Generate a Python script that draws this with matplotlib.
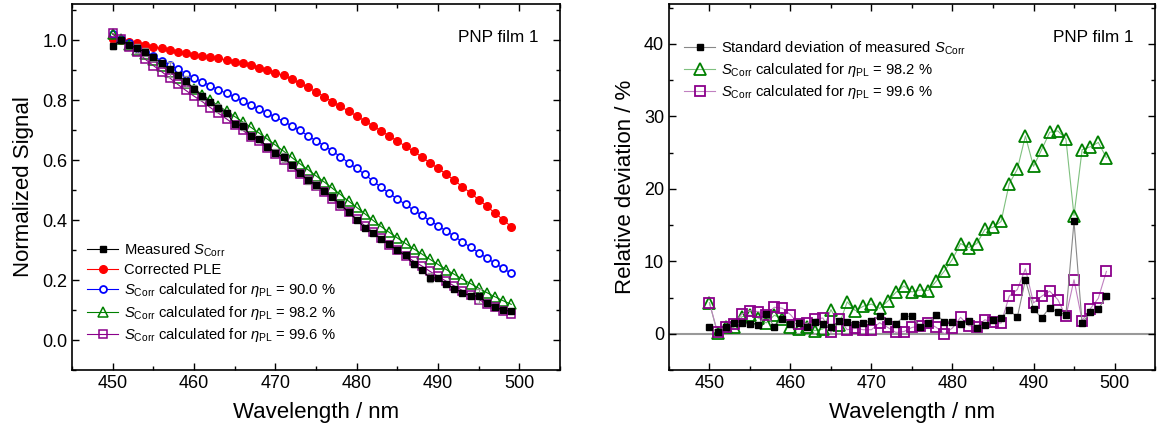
import numpy as np
import matplotlib
matplotlib.use('Agg')
import matplotlib.pyplot as plt
from matplotlib.ticker import MultipleLocator

plt.rcParams['font.family'] = ['Liberation Sans', 'DejaVu Sans']
plt.rcParams['mathtext.fontset'] = 'custom'
plt.rcParams['mathtext.rm'] = 'Liberation Sans'
plt.rcParams['mathtext.it'] = 'Liberation Sans:italic'

wavelength = np.arange(450, 500)

# left panel: normalized signals
measured = [0.980, 1.000, 0.984, 0.972, 0.960, 0.942, 0.924, 0.902, 0.882, 0.863,
            0.838, 0.812, 0.792, 0.774, 0.757, 0.720, 0.714, 0.680, 0.669, 0.645,
            0.624, 0.609, 0.583, 0.556, 0.533, 0.517, 0.497, 0.477, 0.452, 0.426,
            0.401, 0.374, 0.357, 0.336, 0.319, 0.299, 0.282, 0.252, 0.232, 0.208,
            0.206, 0.187, 0.171, 0.158, 0.147, 0.147, 0.124, 0.111, 0.099, 0.096]
corrected_ple = [1.005, 0.999, 0.994, 0.989, 0.983, 0.977, 0.972, 0.967, 0.960, 0.956,
                 0.950, 0.947, 0.943, 0.939, 0.933, 0.927, 0.922, 0.916, 0.908, 0.900,
                 0.891, 0.882, 0.870, 0.857, 0.842, 0.827, 0.811, 0.795, 0.779, 0.763,
                 0.747, 0.730, 0.714, 0.697, 0.680, 0.663, 0.646, 0.629, 0.610, 0.591,
                 0.572, 0.553, 0.532, 0.511, 0.490, 0.468, 0.446, 0.423, 0.401, 0.378]
calc_900 = [1.020, 1.004, 0.990, 0.975, 0.960, 0.946, 0.931, 0.917, 0.902, 0.888,
            0.874, 0.861, 0.848, 0.835, 0.822, 0.809, 0.796, 0.783, 0.770, 0.757,
            0.743, 0.729, 0.714, 0.699, 0.681, 0.664, 0.648, 0.630, 0.611, 0.591,
            0.572, 0.552, 0.530, 0.509, 0.489, 0.470, 0.452, 0.433, 0.416, 0.398,
            0.381, 0.363, 0.346, 0.327, 0.309, 0.291, 0.273, 0.256, 0.239, 0.222]
calc_982 = [1.019, 1.002, 0.983, 0.968, 0.952, 0.935, 0.915, 0.895, 0.875, 0.856,
            0.838, 0.818, 0.799, 0.781, 0.763, 0.745, 0.727, 0.709, 0.690, 0.670,
            0.650, 0.630, 0.609, 0.588, 0.568, 0.547, 0.527, 0.506, 0.485, 0.463,
            0.442, 0.421, 0.399, 0.378, 0.359, 0.340, 0.322, 0.304, 0.287, 0.269,
            0.252, 0.235, 0.219, 0.203, 0.188, 0.173, 0.158, 0.144, 0.131, 0.119]
calc_996 = [1.022, 1.002, 0.978, 0.960, 0.936, 0.915, 0.895, 0.874, 0.852, 0.832,
            0.813, 0.795, 0.775, 0.756, 0.737, 0.718, 0.699, 0.678, 0.662, 0.641,
            0.620, 0.600, 0.578, 0.555, 0.533, 0.512, 0.492, 0.470, 0.448, 0.426,
            0.404, 0.381, 0.360, 0.339, 0.317, 0.299, 0.280, 0.263, 0.247, 0.229,
            0.212, 0.196, 0.180, 0.165, 0.150, 0.135, 0.121, 0.109, 0.098, 0.088]

# right panel: relative deviation in %
std_dev = [0.9, 0.3, 0.97, 1.45, 1.44, 1.32, 1.2, 2.7, 0.97, 2.1,
           1.3, 1.45, 0.97, 1.65, 1.28, 0.88, 1.71, 1.57, 1.34, 1.48,
           1.8, 2.5, 1.71, 1.34, 2.4, 2.4, 0.97, 1.48, 2.6, 1.67,
           1.67, 1.34, 1.71, 0.74, 1.25, 1.94, 2.18, 3.29, 2.27, 7.45,
           3.43, 2.18, 3.61, 3.0, 2.64, 15.5, 1.44, 2.96, 3.38, 5.18]
dev_982 = [4.26, 0.05, 0.88, 0.9, 2.35, 2.55, 2.2, 1.5, 2.55, 2.1,
           1.0, 0.65, 0.88, 0.45, 0.65, 3.33, 1.25, 4.4, 3.2, 3.8,
           4.1, 3.5, 4.5, 5.7, 6.6, 5.77, 6.05, 5.97, 7.27, 8.66,
           10.3, 12.45, 11.9, 12.45, 14.4, 14.7, 15.5, 20.7, 22.7, 27.3,
           23.1, 25.4, 27.8, 28.0, 26.9, 16.3, 25.4, 25.8, 26.4, 24.3]
dev_996 = [4.26, 0.19, 0.97, 1.3, 2.73, 3.19, 3.06, 2.64, 3.66, 3.52,
           2.64, 1.34, 1.44, 1.99, 2.18, 0.19, 2.04, 0.56, 0.74, 0.56,
           0.56, 1.53, 0.88, 0.19, 0.3, 0.88, 1.05, 1.48, 0.88, 0.0,
           0.8, 2.27, 1.11, 0.97, 1.94, 1.57, 1.48, 5.18, 6.1, 8.98,
           4.26, 5.18, 5.88, 4.72, 2.4, 7.45, 1.8, 3.43, 4.9, 8.61]

s_corr = r'$S_{\rm Corr}$'
eta = r'$\eta_{\rm PL}$'

fig = plt.figure(figsize=(11.6, 4.28), dpi=100)
ax1 = fig.add_axes([0.0621, 0.1355, 0.4207, 0.855])
ax2 = fig.add_axes([0.5767, 0.1355, 0.4190, 0.855])

purple = '#8B008B'
green = '#008000'

ax1.plot(wavelength, corrected_ple, '-o', color='red', ms=5.5, lw=0.8,
         label='Corrected PLE', zorder=3)
ax1.plot(wavelength, calc_900, '-o', color='blue', mfc='white', mew=1.3, ms=5,
         lw=0.8, label=s_corr + ' calculated for ' + eta + ' = 90.0 %', zorder=3)
ax1.plot(wavelength, calc_982, '-^', color=green, mfc='none', mew=1.1, ms=7,
         lw=0.8, label=s_corr + ' calculated for ' + eta + ' = 98.2 %', zorder=4)
ax1.plot(wavelength, calc_996, '-s', color=purple, mfc='none', mew=1.1, ms=5.5,
         lw=0.8, label=s_corr + ' calculated for ' + eta + ' = 99.6 %', zorder=4)
err = np.array(measured) * np.array(std_dev) / 100
ax1.errorbar(wavelength, measured, yerr=err, fmt='none', ecolor='#999999',
             elinewidth=0.8, capsize=2, zorder=5)
ax1.plot(wavelength, measured, '-s', color='black', ms=4.5, lw=0.8,
         label='Measured ' + s_corr, zorder=6)

handles, labels = ax1.get_legend_handles_labels()
order = [4, 0, 1, 2, 3]
ax1.legend([handles[i] for i in order], [labels[i] for i in order],
           loc='upper left', bbox_to_anchor=(0.01, 0.38), frameon=False,
           fontsize=10.6, handlelength=2.1, labelspacing=0.3, handletextpad=0.4,
           borderpad=0.2)

ax1.set_xlim(445, 505)
ax1.set_ylim(-0.1, 1.12)
ax1.xaxis.set_major_locator(MultipleLocator(10))
ax1.xaxis.set_minor_locator(MultipleLocator(5))
ax1.yaxis.set_major_locator(MultipleLocator(0.2))
ax1.yaxis.set_minor_locator(MultipleLocator(0.1))
ax1.yaxis.set_major_formatter(plt.FormatStrFormatter('%.1f'))
ax1.set_xlabel('Wavelength / nm', fontsize=16, labelpad=7)
ax1.set_ylabel('Normalized Signal', fontsize=16, labelpad=6)
ax1.text(0.955, 0.91, 'PNP film 1', transform=ax1.transAxes, ha='right',
         va='center', fontsize=12.3)

ax2.axhline(0, color='#999999', lw=1.5, zorder=1)
ax2.plot(wavelength, std_dev, '-s', color='#888888', mfc='black', mec='black',
         ms=5, lw=0.8, label='Standard deviation of measured ' + s_corr, zorder=5)
ax2.plot(wavelength, dev_982, '-^', color='#7fc07f', mfc='none', mec=green,
         mew=1.3, ms=8, lw=0.8,
         label=s_corr + ' calculated for ' + eta + ' = 98.2 %', zorder=3)
ax2.plot(wavelength, dev_996, '-s', color='#c080c0', mfc='none', mec=purple,
         mew=1.3, ms=6.5, lw=0.8,
         label=s_corr + ' calculated for ' + eta + ' = 99.6 %', zorder=4)
ax2.legend(loc='upper left', bbox_to_anchor=(0.01, 0.932), frameon=False,
           fontsize=10.6, handlelength=2.1, labelspacing=0.3, handletextpad=0.4,
           borderpad=0.2)

ax2.set_xlim(445, 505)
ax2.set_ylim(-5, 45.5)
ax2.xaxis.set_major_locator(MultipleLocator(10))
ax2.xaxis.set_minor_locator(MultipleLocator(5))
ax2.yaxis.set_major_locator(MultipleLocator(10))
ax2.yaxis.set_minor_locator(MultipleLocator(5))
ax2.set_xlabel('Wavelength / nm', fontsize=16, labelpad=7)
ax2.set_ylabel('Relative deviation / %', fontsize=16, labelpad=6)
ax2.text(0.955, 0.91, 'PNP film 1', transform=ax2.transAxes, ha='right',
         va='center', fontsize=12.3)

for ax in (ax1, ax2):
    ax.tick_params(which='both', direction='in', top=True, right=True,
                   labelsize=13)
    ax.tick_params(which='major', length=5, width=1)
    ax.tick_params(which='minor', length=3, width=1)
    for sp in ax.spines.values():
        sp.set_linewidth(1.2)

fig.savefig('out.png', dpi=100)
